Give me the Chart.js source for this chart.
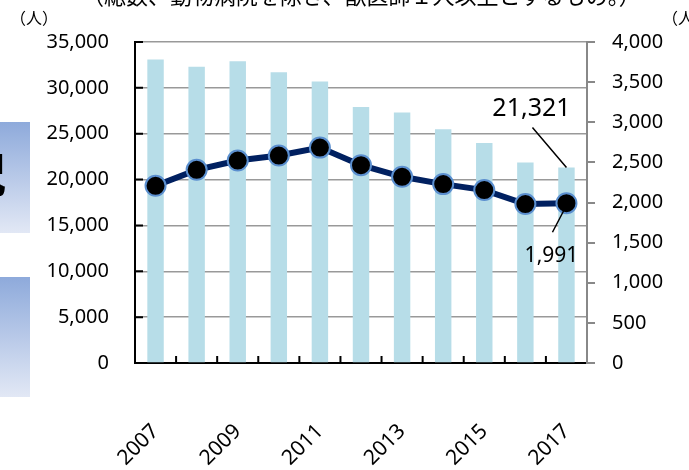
<!DOCTYPE html>
<html>
<head>
<meta charset="utf-8">
<script src="https://cdn.jsdelivr.net/npm/chart.js@4"></script>
<style>
  body { margin: 0; background: #fff; overflow: hidden; }
  #wrap { position: absolute; left: 0; top: 0; width: 689px; height: 470px; }
  .note { position: absolute; font-family: "Noto Sans CJK JP", sans-serif; color: #000; white-space: nowrap; }
  .box { position: absolute; left: 0; width: 30px; background: linear-gradient(#8eaadb, #e2e8f5); }
</style>
</head>
<body>
<div id="wrap"><canvas id="myChart" width="689" height="470"></canvas></div>
<!-- 周りのスライド部品（切れている） -->
<div class="box" style="top:122px;height:111px;"></div>
<div class="box" style="top:277px;height:120px;"></div>
<div class="note" style="left:-40px;top:138px;font-size:46px;font-weight:bold;">況</div>
<div class="note" style="left:82px;top:-22px;font-size:22px;">（総数、動物病院を除き、獣医師１人以上とするもの。）</div>
<div class="note" style="left:10px;top:5px;font-size:16px;">（人）</div>
<div class="note" style="left:662px;top:5px;font-size:16px;">（人）</div>
<script>
// データ
const years = ['2007', '2008', '2009', '2010', '2011', '2012', '2013', '2014', '2015', '2016', '2017'];
const totalWorkers = [33100, 32300, 32900, 31700, 30700, 27900, 27300, 25500, 24000, 21850, 21321];
const clinicCount = [2208, 2407, 2523, 2585, 2684, 2465, 2320, 2229, 2155, 1981, 1991];

const fmt = v => Number(v).toLocaleString('en-US');
const tickFont = { family: '"Noto Sans", sans-serif', size: 20 };

// 軸の内向き目盛りと最終年の注記
const extrasPlugin = {
    id: 'extras',
    afterDraw(chart) {
        const c = chart.ctx;
        const x = chart.scales.x, y = chart.scales.y, y1 = chart.scales.y1;
        const area = chart.chartArea;
        c.save();
        c.strokeStyle = '#000';
        c.lineWidth = 2;
        c.beginPath();
        for (let i = 1; i < years.length; i++) {
            const px = (x.getPixelForValue(i - 1) + x.getPixelForValue(i)) / 2;
            c.moveTo(px, area.bottom);
            c.lineTo(px, area.bottom - 7);
        }
        y.ticks.forEach(t => {
            const py = y.getPixelForValue(t.value);
            c.moveTo(area.left, py);
            c.lineTo(area.left + 8, py);
        });
        c.stroke();

        // 注記
        const last = years.length - 1;
        const bx = x.getPixelForValue(last);
        const by = y.getPixelForValue(totalWorkers[last]);
        const py = y1.getPixelForValue(clinicCount[last]);
        c.lineWidth = 1.5;
        c.beginPath();
        c.moveTo(bx, by);
        c.lineTo(bx - 34, by - 40);
        c.moveTo(bx - 2, py + 6);
        c.lineTo(bx - 14, py + 29);
        c.stroke();
        c.fillStyle = '#000';
        c.textAlign = 'center';
        c.textBaseline = 'middle';
        c.font = '25px "Noto Sans", sans-serif';
        c.fillText(fmt(totalWorkers[last]), bx - 35, by - 59);
        c.font = '21px "Noto Sans", sans-serif';
        c.fillText(fmt(clinicCount[last]), bx - 15, py + 53);
        c.restore();
    }
};

const ctx = document.getElementById('myChart').getContext('2d');
const myChart = new Chart(ctx, {
    type: 'bar',
    data: {
        labels: years,
        datasets: [
            {
                type: 'line',
                label: '施設数',
                data: clinicCount,
                yAxisID: 'y1',
                borderColor: '#002060',
                borderWidth: 6,
                pointRadius: 10,
                pointBackgroundColor: '#000',
                pointBorderColor: '#5b8fcf',
                pointBorderWidth: 2,
                tension: 0,
                order: 1
            },
            {
                label: '従事者数',
                data: totalWorkers,
                yAxisID: 'y',
                backgroundColor: '#b7dde8',
                barPercentage: 0.4,
                categoryPercentage: 1.0,
                order: 2
            }
        ]
    },
    options: {
        responsive: false,
        animation: false,
        layout: { padding: { top: 42, left: 0, right: 0, bottom: 0 } },
        plugins: {
            legend: { display: false },
            tooltip: { enabled: false }
        },
        scales: {
            x: {
                offset: true,
                grid: { display: false },
                border: { color: '#000', width: 2 },
                ticks: {
                    autoSkip: false,
                    maxRotation: 45,
                    minRotation: 45,
                    padding: 48,
                    color: '#000',
                    font: { family: '"Noto Sans", sans-serif', size: 21 },
                    callback: (v, i) => (i % 2 === 0 ? years[i] : '')
                },
                afterFit: s => { s.height = 107; }
            },
            y: {
                position: 'left',
                min: 0,
                max: 35000,
                ticks: { stepSize: 5000, padding: 26, color: '#000', font: tickFont, callback: fmt },
                grid: { color: '#999', lineWidth: 1.5, drawTicks: false },
                border: { color: '#000', width: 2 },
                afterFit: s => { s.width = 135; }
            },
            y1: {
                position: 'right',
                min: 0,
                max: 4000,
                ticks: { stepSize: 500, padding: 17, color: '#000', font: tickFont, callback: fmt },
                grid: { drawOnChartArea: false, color: '#888', lineWidth: 2, tickLength: 8 },
                border: { color: '#888', width: 2 },
                afterFit: s => { s.width = 102; }
            }
        }
    },
    plugins: [extrasPlugin]
});
</script>
</body>
</html>
